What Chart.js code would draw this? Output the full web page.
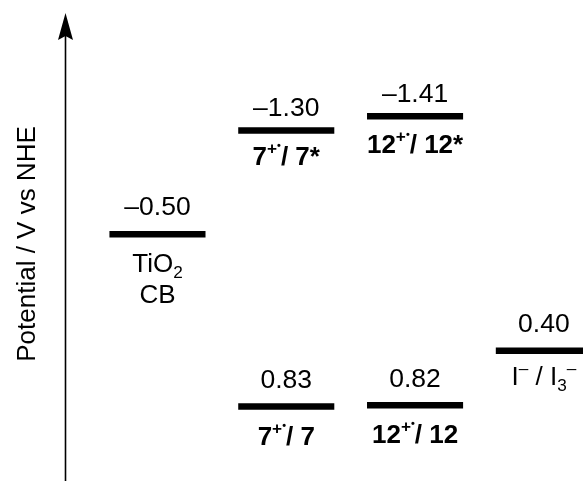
<!DOCTYPE html>
<html>
<head>
<meta charset="utf-8">
<script src="https://cdn.jsdelivr.net/npm/chart.js@4"></script>
<style>
    html, body { margin: 0; padding: 0; background: #fff; }
    #wrap { width: 583px; height: 481px; position: relative; }
</style>
</head>
<body>
<div id="wrap"><canvas id="levels"></canvas></div>
<script>
// === Data ===
// markup: ^{..} superscript, _{..} subscript, `{..} raised dot, \n new line
const levelNames = [
    "TiO_{2}\nCB",
    "7^{+}`{•}/ 7*",
    "12^{+}`{•}/ 12*",
    "7^{+}`{•}/ 7",
    "12^{+}`{•}/ 12",
    "I^{–} / I_{3}^{–}",
];
const potentials = [-0.50, -1.30, -1.41, 0.83, 0.82, 0.40];
const columns = [0, 1, 2, 1, 2, 3];
const yTitle = "Potential / V vs NHE";

// === Styles ===
const FONT = "'Liberation Sans', Arial, Helvetica, sans-serif";
const boldName = [false, true, true, true, true, false];
const valueGap = [19.5, 14.7, 14.6, 18.4, 18.3, 18.7];
const nameGap = [38, 34.3, 37, 38.3, 37.7, 34];
const HALF_W = 0.373;

function fmt(v) {
    return v < 0 ? "\u2013" + Math.abs(v).toFixed(2) : v.toFixed(2);
}

function parseRich(s) {
    const parts = s.split(/([\^_`]\{[^}]*\})/).filter(p => p.length);
    return parts.map(p => {
        if (p.startsWith("^{")) return { text: p.slice(2, -1), mode: "sup" };
        if (p.startsWith("_{")) return { text: p.slice(2, -1), mode: "sub" };
        if (p.startsWith("`{")) return { text: p.slice(2, -1), mode: "dot" };
        return { text: p, mode: "n" };
    });
}

function drawRich(ctx, str, cx, y, size, bold) {
    const w = bold ? "bold " : "";
    const segs = parseRich(str);
    const scale = { n: 1, sup: 0.66, sub: 0.66, dot: 0.42 };
    const shift = { n: 0, sup: -0.42, sub: 0.24, dot: -0.6 };
    const fontOf = m => w + (size * scale[m]).toFixed(1) + "px " + FONT;
    let total = 0;
    segs.forEach(s => {
        ctx.font = fontOf(s.mode);
        s.w = ctx.measureText(s.text).width;
        total += s.w;
    });
    let x = cx - total / 2;
    ctx.textAlign = "left";
    ctx.textBaseline = "alphabetic";
    segs.forEach(s => {
        ctx.font = fontOf(s.mode);
        ctx.fillText(s.text, x, y + shift[s.mode] * size);
        x += s.w;
    });
}

// === Axis arrow, title and labels ===
const diagramPlugin = {
    id: "diagram",
    afterDatasetsDraw(chart) {
        const ctx = chart.ctx;
        const area = chart.chartArea;
        const ax = area.left + 0.5;
        ctx.save();
        ctx.fillStyle = "#000";
        ctx.strokeStyle = "#000";

        // axis line + arrowhead
        ctx.lineWidth = 1.6;
        ctx.beginPath();
        ctx.moveTo(ax, chart.height);
        ctx.lineTo(ax, 36);
        ctx.stroke();
        ctx.beginPath();
        ctx.moveTo(ax, 13);
        ctx.lineTo(ax - 7.5, 40);
        ctx.lineTo(ax, 36);
        ctx.lineTo(ax + 7.5, 40);
        ctx.closePath();
        ctx.fill();

        // y title
        ctx.save();
        ctx.translate(35, 244);
        ctx.rotate(-Math.PI / 2);
        ctx.font = "26px " + FONT;
        ctx.textAlign = "center";
        ctx.textBaseline = "alphabetic";
        ctx.fillText(yTitle, 0, 0);
        ctx.restore();

        // level labels
        chart.data.datasets.forEach((ds, i) => {
            const pts = chart.getDatasetMeta(i).data;
            const cx = (pts[0].x + pts[1].x) / 2;
            const cy = pts[0].y;
            ctx.font = "26.5px " + FONT;
            ctx.textAlign = "center";
            ctx.textBaseline = "alphabetic";
            ctx.fillText(fmt(potentials[i]), cx, cy - valueGap[i]);
            levelNames[i].split("\n").forEach((line, k) => {
                drawRich(ctx, line, cx, cy + nameGap[i] + k * 31, 26, boldName[i]);
            });
        });
        ctx.restore();
    },
};

// === Chart ===
const datasets = potentials.map((v, i) => ({
    label: levelNames[i],
    data: [
        { x: columns[i] - HALF_W, y: v },
        { x: columns[i] + HALF_W, y: v },
    ],
    showLine: true,
    borderColor: "#000",
    borderWidth: 6.5,
    borderCapStyle: "butt",
    pointRadius: 0,
    pointHoverRadius: 0,
    clip: false,
}));

new Chart(document.getElementById("levels"), {
    type: "scatter",
    data: { datasets },
    options: {
        responsive: true,
        maintainAspectRatio: false,
        animation: false,
        layout: { padding: { left: 65, right: 0, top: 0, bottom: 0 } },
        scales: {
            x: { type: "linear", display: false, min: -0.718, max: 3.304 },
            y: { type: "linear", display: false, reverse: true, min: -2.307, max: 1.404 },
        },
        plugins: {
            legend: { display: false },
            tooltip: { enabled: false },
        },
    },
    plugins: [diagramPlugin],
});
</script>
</body>
</html>
